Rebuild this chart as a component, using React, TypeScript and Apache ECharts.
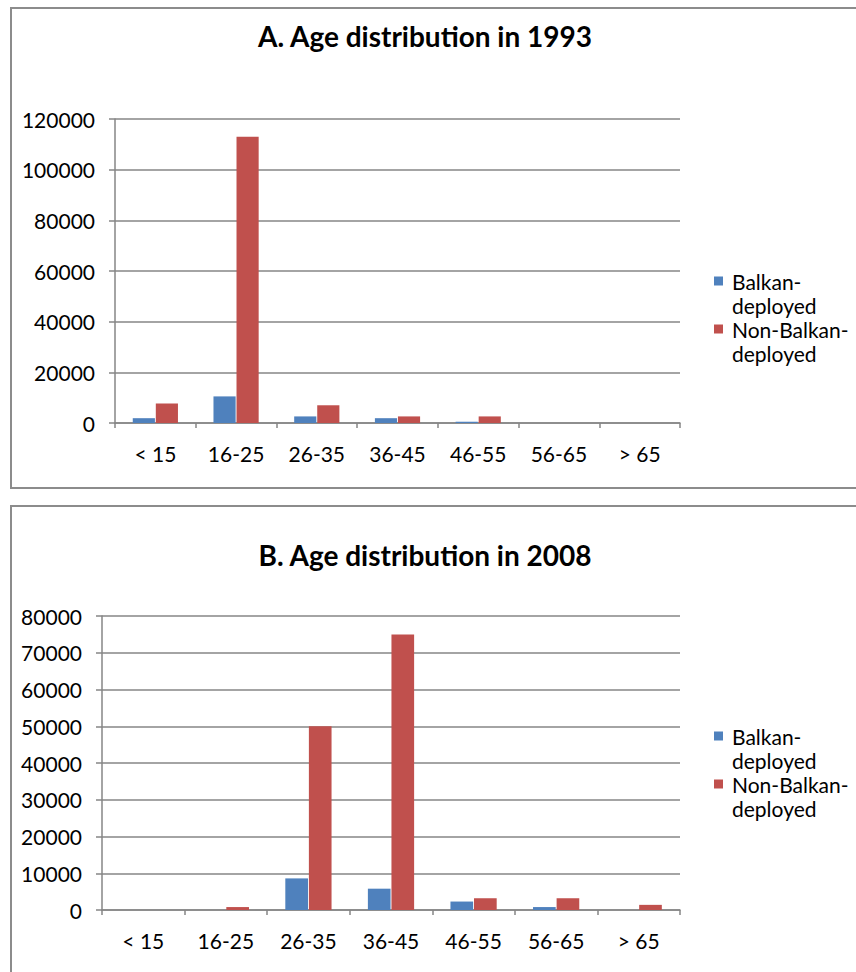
import React, { useEffect, useRef } from "react";
import * as echarts from "echarts";

const categories = ["< 15", "16-25", "26-35", "36-45", "46-55", "56-65", "> 65"];
const seriesNames = ["Balkan-deployed", "Non-Balkan-deployed"];
const balkan1993 = [1900, 10500, 2600, 1900, 500, 0, 0];
const nonBalkan1993 = [7700, 113000, 7000, 2600, 2600, 0, 0];
const balkan2008 = [0, 0, 8600, 5800, 2300, 800, 0];
const nonBalkan2008 = [0, 800, 50000, 75000, 3200, 3200, 1400];
const titles = ["A. Age distribution in 1993", "B. Age distribution in 2008"];

const FONT = "Lato";
const AXIS = "#868686";
const BLUE = "#4F81BD";
const RED = "#C0504D";

export default function App() {
  const ref = useRef<HTMLDivElement>(null);
  useEffect(() => {
    if (!ref.current) return;
    const chart = echarts.init(ref.current, undefined, { renderer: "svg" });
    const xAxisBase = (gridIndex: number) => ({
      type: "category",
      gridIndex,
      data: categories,
      axisLine: { lineStyle: { color: AXIS, width: 1.5 } },
      axisTick: { show: true, length: 5, alignWithLabel: false, lineStyle: { color: AXIS, width: 1.5 } },
      axisLabel: { color: "#000", fontFamily: FONT, fontSize: 21, margin: 20, interval: 0 },
    });
    const yAxisBase = (gridIndex: number, max: number, interval: number) => ({
      type: "value",
      gridIndex,
      min: 0,
      max,
      interval,
      axisLine: { show: true, lineStyle: { color: AXIS, width: 1.5 } },
      axisTick: { show: true, length: 6, lineStyle: { color: AXIS, width: 1.5 } },
      axisLabel: {
        color: "#000",
        fontFamily: FONT,
        fontSize: 21,
        margin: 20,
        formatter: (v: number) => String(v),
      },
      splitLine: { show: true, lineStyle: { color: AXIS, width: 1.5 } },
    });
    const legendBase = (top: number) => ({
      orient: "vertical",
      left: 714,
      top,
      padding: 0,
      itemWidth: 9,
      itemHeight: 9,
      itemGap: -24,
      icon: "rect",
      data: seriesNames,
      formatter: (n: string) => "\u00A0\n" + n.replace("Balkan-", "Balkan-\n"),
      textStyle: {
        fontFamily: FONT,
        fontSize: 21,
        color: "#000",
        lineHeight: 24,
        padding: [0, 0, 0, 4],
      },
    });
    const barBase = {
      type: "bar",
      barGap: "4%",
      barCategoryGap: "44%",
    };
    const titleStyle = { fontFamily: FONT, fontSize: 28, fontWeight: "bold", color: "#000" };
    chart.setOption({
      animation: false,
      title: [
        { text: titles[0], left: 420, top: 17, textAlign: "center", textStyle: titleStyle },
        { text: titles[1], left: 420, top: 536, textAlign: "center", textStyle: titleStyle },
      ],
      legend: [legendBase(245), legendBase(700)],
      grid: [
        { left: 115, top: 119, width: 565, height: 304 },
        { left: 102, top: 616, width: 578, height: 294 },
      ],
      xAxis: [xAxisBase(0), xAxisBase(1)],
      yAxis: [yAxisBase(0, 120000, 20000), yAxisBase(1, 80000, 10000)],
      graphic: [
        {
          type: "rect",
          shape: { x: 11, y: 8, width: 900, height: 480 },
          style: { fill: "none", stroke: "#8c8c8c", lineWidth: 2 },
          z: -1,
        },
        {
          type: "rect",
          shape: { x: 11, y: 506, width: 900, height: 500 },
          style: { fill: "none", stroke: "#8c8c8c", lineWidth: 2 },
          z: -1,
        },
      ],
      series: [
        { ...barBase, name: seriesNames[0], xAxisIndex: 0, yAxisIndex: 0, data: balkan1993, itemStyle: { color: BLUE } },
        { ...barBase, name: seriesNames[1], xAxisIndex: 0, yAxisIndex: 0, data: nonBalkan1993, itemStyle: { color: RED } },
        { ...barBase, name: seriesNames[0], xAxisIndex: 1, yAxisIndex: 1, data: balkan2008, itemStyle: { color: BLUE } },
        { ...barBase, name: seriesNames[1], xAxisIndex: 1, yAxisIndex: 1, data: nonBalkan2008, itemStyle: { color: RED } },
      ],
    });
    return () => chart.dispose();
  }, []);
  return (
    <div
      ref={ref}
      style={{ position: "absolute", left: 0, top: 0, width: 856, height: 972, background: "#fff" }}
    />
  );
}
